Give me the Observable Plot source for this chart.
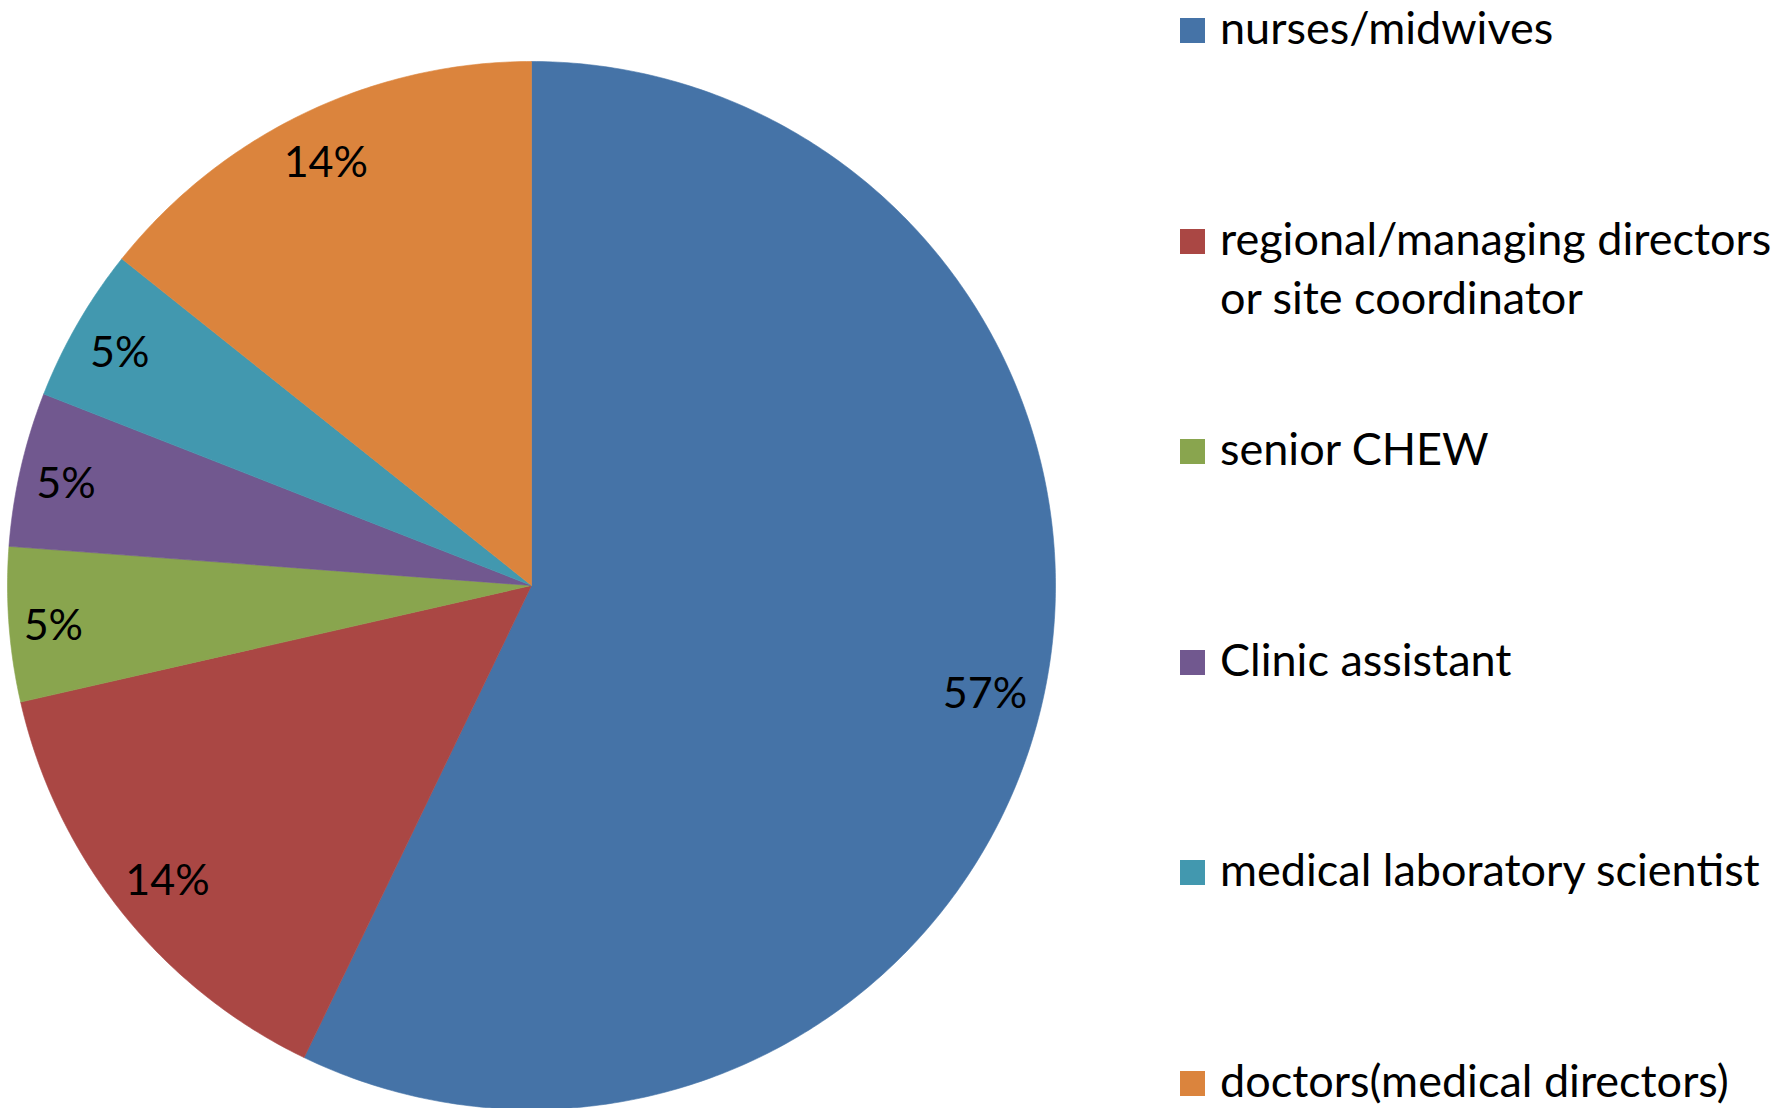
<!DOCTYPE html>
<html>
<head>
<meta charset="utf-8">
<script src="https://cdn.jsdelivr.net/npm/d3@7"></script>
<script src="https://cdn.jsdelivr.net/npm/@observablehq/plot@0.6"></script>
<style>
  html, body { margin: 0; padding: 0; background: #ffffff; }
  #wrap { position: relative; width: 1786px; height: 1108px; overflow: hidden; }
  #legend { position: absolute; left: 1180px; top: 0; }
  .row { position: absolute; left: 0; font-family: Lato, sans-serif; font-size: 45px; line-height: 59px; color: #000; }
  .sw { position: absolute; left: 0; top: 20px; width: 25px; height: 25px; }
  .lab { position: absolute; left: 40px; top: 0; white-space: pre; }
</style>
</head>
<body>
<div id="wrap"><div id="chart"></div><div id="legend"></div></div>
<script>
// Data
const categories = [
  "nurses/midwives",
  "regional/managing directors\nor site coordinator",
  "senior CHEW",
  "Clinic assistant",
  "medical laboratory scientist",
  "doctors(medical directors)"
];
const counts = [12, 3, 1, 1, 1, 3];
const colors = ["#4573A7", "#AA4744", "#89A54E", "#71588F", "#4298AF", "#DB843D"];

// Geometry
const cx = 531, cy = 585, R = 524;
const labelFont = 43;
const labelGap = 18;

const total = d3.sum(counts);
const arcs = d3.pie().sort(null).value(d => d)(counts);

// Build polygon vertices for each slice (angles clockwise from top)
const poly = [];
arcs.forEach((a, i) => {
  const name = categories[i];
  poly.push({name, x: 0, y: 0});
  const n = Math.max(2, Math.ceil((a.endAngle - a.startAngle) / 0.01));
  for (let k = 0; k <= n; k++) {
    const t = a.startAngle + (a.endAngle - a.startAngle) * k / n;
    poly.push({name, x: Math.sin(t), y: Math.cos(t)});
  }
  poly.push({name, x: 0, y: 0});
});

// Labels placed "inside end": text box kept just inside the rim
const labels = arcs.map((a, i) => {
  const m = (a.startAngle + a.endAngle) / 2;
  const text = Math.round(counts[i] / total * 100) + "%";
  const ux = Math.sin(m), uy = Math.cos(m);
  const w = text.length * 0.62 * labelFont * 0.95, h = 0.8 * labelFont;
  const ext = Math.abs(ux) * w / 2 + Math.abs(uy) * h / 2;
  const r = (R - labelGap - ext) / R;
  return {name: categories[i], x: r * ux, y: r * uy, text};
});

const chart = Plot.plot({
  width: 1786,
  height: 1108,
  margin: 0,
  x: {domain: [-1, 1], range: [cx - R, cx + R], axis: null},
  y: {domain: [-1, 1], range: [cy + R, cy - R], axis: null},
  color: {domain: categories, range: colors},
  marks: [
    Plot.line(poly, {x: "x", y: "y", z: "name", fill: "name", stroke: "name", strokeWidth: 0.6, curve: "linear"}),
    Plot.text(labels, {x: "x", y: "y", text: "text", fill: "#000", fontSize: labelFont, fontFamily: "Lato, sans-serif", textAnchor: "middle", dy: 5})
  ],
  style: {background: "#ffffff"}
});
document.getElementById("chart").appendChild(chart);

// Legend (right side)
const legend = document.getElementById("legend");
categories.forEach((c, i) => {
  const center = 30 + i * 210.6;
  const row = document.createElement("div");
  row.className = "row";
  row.style.top = (center - 32) + "px";
  const sw = document.createElement("div");
  sw.className = "sw";
  sw.style.background = colors[i];
  const lab = document.createElement("div");
  lab.className = "lab";
  lab.textContent = c;
  row.appendChild(sw);
  row.appendChild(lab);
  legend.appendChild(row);
});
</script>
</body>
</html>
